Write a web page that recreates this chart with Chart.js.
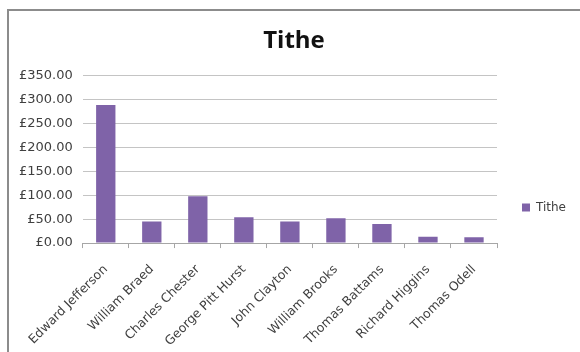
<!DOCTYPE html>
<html>
<head>
<meta charset="utf-8">
<script src="https://cdn.jsdelivr.net/npm/chart.js@4/dist/chart.umd.min.js"></script>
<style>
  html, body { margin: 0; padding: 0; background: #fff; }
  #wrap { position: relative; width: 580px; height: 352px; }
  #frame { position: absolute; left: 7px; top: 9px; right: 0; bottom: 0;
           border-left: 2px solid #8c8c8c; border-top: 2px solid #8c8c8c; }
  canvas { position: absolute; left: 0; top: 0; }
</style>
</head>
<body>
<div id="wrap">
  <div id="frame"></div>
  <canvas id="c" width="580" height="352"></canvas>
</div>
<script>
const categories = ["Edward Jefferson", "William Braed", "Charles Chester", "George Pitt Hurst",
  "John Clayton", "William Brooks", "Thomas Battams", "Richard Higgins", "Thomas Odell"];
const titheValues = [289, 45, 98, 54, 45, 52, 40, 13, 12];
const seriesName = "Tithe";
const chartTitle = "Tithe";
const yMax = 350;
const yStep = 50;

// shift legend and title boxes to match the reference placement
const boxShift = {
  id: 'boxShift',
  afterLayout(chart) {
    const lg = chart.legend;
    if (lg) {
      const dx = 15, dy = 26;
      lg.left += dx; lg.right += dx;
      lg.top += dy; lg.bottom += dy;
    }
    const tb = chart.titleBlock;
    if (tb) { tb.left += 9; tb.right += 9; }
  }
};

new Chart(document.getElementById('c'), {
  type: 'bar',
  data: {
    labels: categories,
    datasets: [{
      label: seriesName,
      data: titheValues,
      backgroundColor: '#7f63a8',
      borderWidth: 0,
      categoryPercentage: 1,
      barPercentage: 0.42
    }]
  },
  plugins: [boxShift],
  options: {
    responsive: false,
    animation: false,
    devicePixelRatio: 1,
    layout: { padding: { left: 9, right: 19, top: 0, bottom: -11 } },
    plugins: {
      title: {
        display: true,
        text: chartTitle,
        color: '#111',
        font: { family: 'Open Sans', size: 24, weight: 'bold' },
        padding: { top: 27, bottom: 20 }
      },
      legend: {
        display: true,
        position: 'right',
        labels: {
          boxWidth: 8,
          boxHeight: 8,
          color: '#404040',
          font: { family: 'DejaVu Sans', size: 12 },
          padding: 10
        }
      },
      tooltip: { enabled: false }
    },
    scales: {
      x: {
        grid: {
          display: true,
          drawOnChartArea: false,
          drawTicks: true,
          tickLength: 5,
          color: '#a6a6a6',
          offset: true
        },
        border: { display: true, color: '#a6a6a6', width: 1 },
        ticks: {
          minRotation: 45,
          maxRotation: 45,
          autoSkip: false,
          padding: 14,
          color: '#404040',
          font: { family: 'DejaVu Sans', size: 12.5 }
        }
      },
      y: {
        min: 0,
        max: yMax,
        grid: {
          color: '#c4c4c4',
          drawTicks: false
        },
        border: { display: false },
        ticks: {
          stepSize: yStep,
          padding: 10,
          color: '#404040',
          font: { family: 'DejaVu Sans', size: 13 },
          callback: v => '£' + Number(v).toFixed(2)
        }
      }
    }
  }
});
</script>
</body>
</html>
